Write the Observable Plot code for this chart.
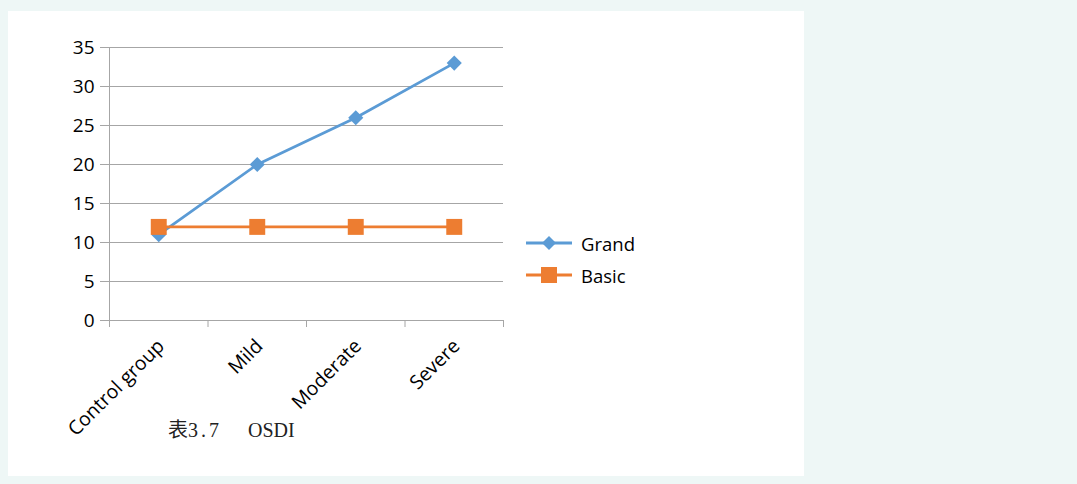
<!DOCTYPE html>
<html>
<head>
<meta charset="utf-8">
<script src="https://cdn.jsdelivr.net/npm/d3@7"></script>
<script src="https://cdn.jsdelivr.net/npm/@observablehq/plot@0.6"></script>
<style>
  html, body { margin: 0; padding: 0; background: #eef7f6; width: 1077px; height: 484px; overflow: hidden; }
  #panel { position: absolute; left: 8px; top: 11px; width: 796px; height: 465px; background: #ffffff; }
  #chart svg { display: block; }
  #legend { position: absolute; left: 517px; top: 216px; font-family: "Open Sans", sans-serif; font-size: 18.5px; color: #000; }
  .item { display: flex; align-items: center; height: 32px; }
  .item svg { margin-right: 8px; }
  #caption { position: absolute; left: 160px; top: 409px; font-family: "Liberation Serif", "Noto Sans CJK SC", serif; font-size: 20px; line-height: 20px; color: #222; white-space: pre; }
  #caption .num { letter-spacing: 3px; }
  #caption .gap { display: inline-block; width: 26px; }
</style>
</head>
<body>
<div id="panel">
  <div id="chart"></div>
  <div id="legend"></div>
  <div id="caption"><span class="zh">表</span><span class="num">3.7</span><span class="gap"></span><span class="abbr">OSDI</span></div>
</div>
<script>
const categories = ["Control group", "Mild", "Moderate", "Severe"];
const grand = [11, 20, 26, 33];
const basic = [12, 12, 12, 12];
const yTicks = [0, 5, 10, 15, 20, 25, 30, 35];
const seriesNames = ["Grand", "Basic"];
const seriesColors = ["#5b9bd5", "#ed7d31"];

const rows = [];
categories.forEach((c, i) => {
  rows.push({cat: c, idx: i + 0.5, value: grand[i], series: "Grand"});
  rows.push({cat: c, idx: i + 0.5, value: basic[i], series: "Basic"});
});
const grandRows = rows.filter(d => d.series === "Grand");
const basicRows = rows.filter(d => d.series === "Basic");
const catRows = categories.map((c, i) => ({cat: c, idx: i + 0.5}));
const xBounds = d3.range(categories.length + 1);

const gray = "#a6a6a6";
const plot = Plot.plot({
  width: 796,
  height: 465,
  marginLeft: 101,
  marginRight: 301,
  marginTop: 36,
  marginBottom: 156,
  style: {color: gray, fontFamily: "'Open Sans', sans-serif", background: "transparent", overflow: "visible"},
  x: {type: "linear", domain: [0, categories.length], axis: null},
  y: {domain: [0, 35], axis: null},
  marks: [
    Plot.ruleY(yTicks, {stroke: gray, strokeWidth: 1, insetLeft: -9}),
    Plot.ruleX([0], {stroke: gray, strokeWidth: 1}),
    Plot.axisX({ticks: xBounds, tickSize: 7, tickFormat: () => "", stroke: gray, label: null}),
    Plot.axisY({ticks: yTicks, tickSize: 0, tickPadding: 15, fontSize: 19, fill: "#000", label: null}),
    Plot.text(catRows, {x: "idx", text: "cat", frameAnchor: "bottom", rotate: -45, textAnchor: "end", lineAnchor: "top", dy: 17, dx: -3, fontSize: 19.5, fill: "#000"}),
    Plot.line(grandRows, {x: "idx", y: "value", stroke: seriesColors[0], strokeWidth: 2.8}),
    Plot.dot(grandRows, {x: "idx", y: "value", symbol: "diamond2", r: 6.8, fill: seriesColors[0], stroke: "none"}),
    Plot.line(basicRows, {x: "idx", y: "value", stroke: seriesColors[1], strokeWidth: 2.8}),
    Plot.dot(basicRows, {x: "idx", y: "value", symbol: "square", r: 9, fill: seriesColors[1], stroke: "none"})
  ]
});
document.getElementById("chart").appendChild(plot);

// Legend
const legend = document.getElementById("legend");
seriesNames.forEach((name, k) => {
  const item = document.createElement("div");
  item.className = "item";
  const marker = k === 0
    ? `<path d="M24,3 L31,10 L24,17 L17,10 Z" fill="${seriesColors[k]}"/>`
    : `<rect x="16" y="2" width="16" height="16" fill="${seriesColors[k]}"/>`;
  item.innerHTML = `<svg width="48" height="20"><line x1="1" y1="10" x2="47" y2="10" stroke="${seriesColors[k]}" stroke-width="2.8"/>${marker}</svg><span>${name}</span>`;
  legend.appendChild(item);
});
</script>
</body>
</html>
